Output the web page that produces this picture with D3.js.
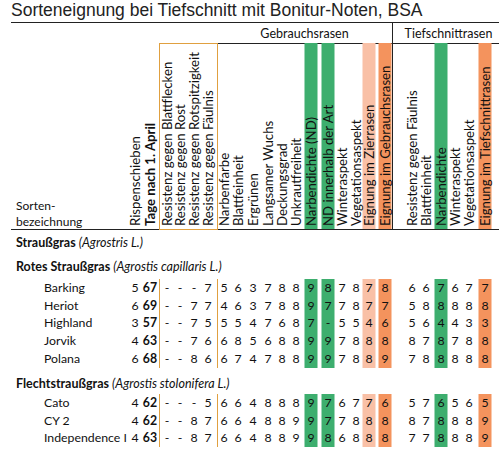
<!DOCTYPE html>
<html><head><meta charset="utf-8">
<script src="https://cdn.jsdelivr.net/npm/d3@7"></script>
<style>body{margin:0;background:#fff}</style></head>
<body><svg id="c" width="499" height="460"></svg>
<script>
const columns = ["Rispenschieben","Tage nach 1. April","Resistenz gegen Blattflecken","Resistenz gegen Rost","Resistenz gegen Rotspitzigkeit","Resistenz gegen Fäulnis","Narbenfarbe","Blattfeinheit","Ergrünen","Langsamer Wuchs","Deckungsgrad","Unkrautfreiheit","Narbendichte (ND)","ND innerhalb der Art","Winteraspekt","Vegetationsaspekt","Eignung im Zierrasen","Eignung im Gebrauchsrasen","Resistenz gegen Fäulnis ","Blattfeinheit ","Narbendichte","Winteraspekt ","Vegetationsaspekt ","Eignung im Tiefschnittrasen"];
const columnX = [135,150,167,180,194,208,224,238,253,268,282,296,311,328,342,356,369,385,412,426,441,455,469,485];
const highlight = {12:"#3dae6e",13:"#3dae6e",16:"#f9c0a6",17:"#f4935d",20:"#3dae6e",23:"#f4935d"};
const groups = [{name:"Gebrauchsrasen",from:6,to:17},{name:"Tiefschnittrasen",from:18,to:23}];
const sections = [
 {title:"Rotes Straußgras", latin:"(Agrostis capillaris L.)"},
 {title:"Flechtstraußgras", latin:"(Agrostis stolonifera L.)"}];
const varieties = [
 ["Barking","Heriot","Highland","Jorvik","Polana"],
 ["Cato","CY 2","Independence I"]];
const scores = [
 [["5","67","-","-","-","7","5","6","3","7","8","8","9","8","7","8","7","8","6","6","7","6","7","7"],
  ["6","69","-","-","7","7","4","6","3","7","8","8","9","7","7","8","7","7","5","8","8","8","8","8"],
  ["3","57","-","-","7","5","5","5","4","7","6","8","7","-","5","5","4","6","5","6","4","4","3","3"],
  ["4","63","-","-","7","6","6","8","5","6","8","8","9","9","7","8","8","8","8","7","8","7","8","8"],
  ["6","68","-","-","8","6","6","7","4","7","8","8","9","9","7","8","8","9","7","8","8","8","8","8"]],
 [["4","62","-","-","-","5","6","6","4","8","8","8","9","7","6","7","7","6","5","7","6","5","6","5"],
  ["4","62","-","-","8","7","6","6","4","8","8","9","9","7","7","8","8","8","8","7","8","8","8","9"],
  ["4","63","-","-","8","7","6","6","4","8","8","9","9","8","6","8","8","8","7","7","8","8","8","9"]]];
const sectionY = [267,384], rowY=[[288,306,323,341,359],[403,421,438]];

const svg = d3.select("#c");
const x = d3.scaleOrdinal().domain(d3.range(columns.length)).range(columnX);
const F = "Lato, 'Open Sans', sans-serif";
svg.append("text").attr("x",11).attr("y",16).attr("font-family","'Liberation Sans', Arial").attr("font-size",17.5).attr("fill","#222").text("Sorteneignung bei Tiefschnitt mit Bonitur-Noten, BSA");
svg.append("line").attr("x1",11).attr("x2",499).attr("y1",22.5).attr("y2",22.5).attr("stroke","#222");
svg.append("line").attr("x1",159).attr("x2",499).attr("y1",43.5).attr("y2",43.5).attr("stroke","#222");
svg.append("line").attr("x1",11).attr("x2",499).attr("y1",229.5).attr("y2",229.5).attr("stroke","#222");
svg.append("line").attr("x1",392.5).attr("x2",392.5).attr("y1",22).attr("y2",229).attr("stroke","#222");
Object.entries(highlight).forEach(([i,c])=>{
  svg.append("rect").attr("x",x(+i)-6.5).attr("width",13).attr("y",43).attr("height",186).attr("fill",c);
});
svg.append("rect").attr("x",159.5).attr("y",43.5).attr("width",58).attr("height",186).attr("fill","none").attr("stroke","#e0a040");
groups.forEach(g=>{
  svg.append("text").attr("x",(x(g.from)+x(g.to))/2).attr("y",38).attr("text-anchor","middle").attr("font-family",F).attr("font-size",12.5).attr("fill","#111").text(g.name);
});
columns.forEach((c,i)=>{
  svg.append("text").attr("transform",`translate(${x(i)+4.5},226) rotate(-90)`).attr("font-family",F).attr("font-size",13.2)
   .attr("font-weight",i===1?"bold":"normal").attr("fill","#111").text(c.trim());
});
svg.append("text").attr("x",16).attr("y",210).attr("font-family",F).attr("font-size",12).attr("fill","#111").text("Sorten-");
svg.append("text").attr("x",16).attr("y",226).attr("font-family",F).attr("font-size",12).attr("fill","#111").text("bezeichnung");
const t0 = svg.append("text").attr("x",16).attr("y",247).attr("font-family",F).attr("font-size",12.5).attr("fill","#111");
t0.append("tspan").attr("font-weight","bold").text("Straußgras ");
t0.append("tspan").attr("font-style","italic").text("(Agrostris L.)");

sections.forEach((s,si)=>{
  const t = svg.append("text").attr("x",16).attr("y",sectionY[si]+4).attr("font-family",F).attr("font-size",12.5).attr("fill","#111");
  t.append("tspan").attr("font-weight","bold").text(s.title+" ");
  t.append("tspan").attr("font-style","italic").text(s.latin);
  const ys=rowY[si], top=ys[0]-9, bot=ys[ys.length-1]+9;
  Object.entries(highlight).forEach(([i,c])=>{
    svg.append("rect").attr("x",x(+i)-6.5).attr("width",13).attr("y",top).attr("height",bot-top).attr("fill",c);
  });
  [159.5,217.5].forEach(lx=>svg.append("line").attr("x1",lx).attr("x2",lx).attr("y1",top).attr("y2",bot).attr("stroke","#e0a040"));
  varieties[si].forEach((v,ri)=>{
    svg.append("text").attr("x",44).attr("y",ys[ri]+4).attr("font-family",F).attr("font-size",12.3).attr("fill","#111").text(v);
    scores[si][ri].forEach((val,ci)=>{
      svg.append("text").attr("x",x(ci)).attr("y",ys[ri]+4).attr("text-anchor","middle").attr("font-family",F).attr("font-size",12.3)
        .attr("font-weight",ci===1?"bold":"normal").attr("fill","#111").text(val);
    });
  });
});
</script></body></html>
